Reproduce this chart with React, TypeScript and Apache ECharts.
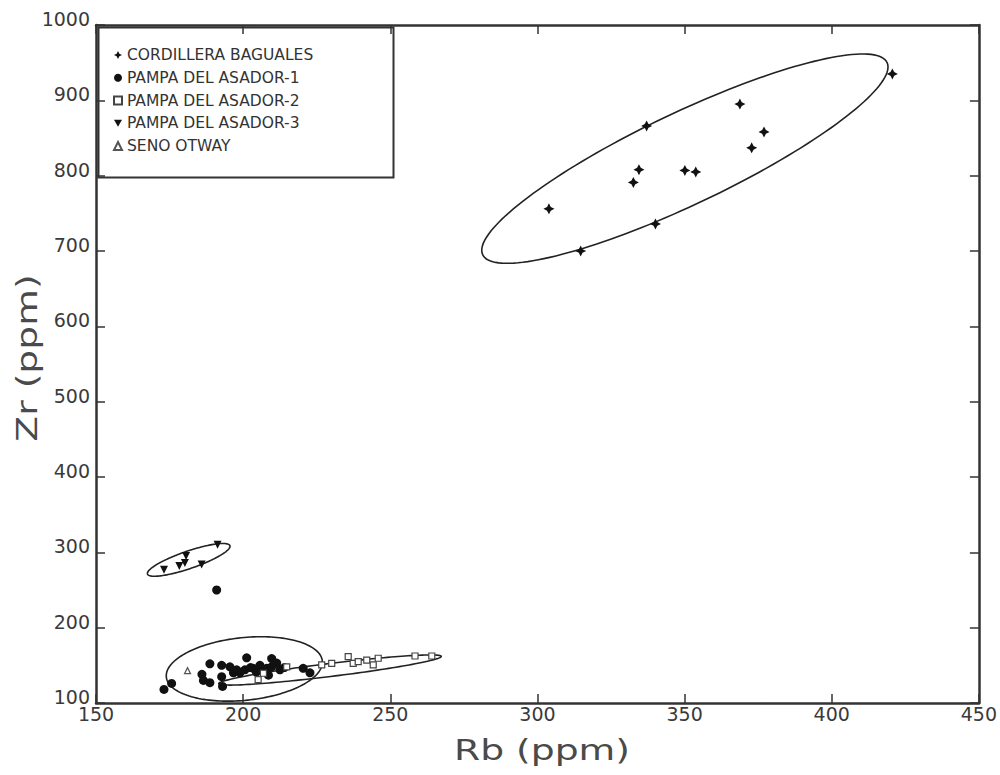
import React, { useEffect, useRef } from "react";
import * as echarts from "echarts";

// Axis ranges (Rb on x, Zr on y, both in ppm)
const xRange = [150, 450];
const xStep = 50;
const yRange = [100, 1000];
const yStep = 100;

const groupNames = [
  "CORDILLERA BAGUALES",
  "PAMPA DEL ASADOR-1",
  "PAMPA DEL ASADOR-2",
  "PAMPA DEL ASADOR-3",
  "SENO OTWAY",
];

// [Rb, Zr] samples per locality
const cordilleraBaguales: [number, number][] = [
  [420.6, 935], [368.8, 895], [337.1, 866], [377.0, 858], [372.8, 837],
  [334.5, 808], [350.1, 807], [353.8, 805], [332.6, 791], [303.9, 756],
  [340.1, 736], [314.7, 700],
];

const pampaAsador1: [number, number][] = [
  [173.1, 118], [175.7, 126], [186.0, 138], [186.5, 130], [188.7, 152],
  [188.7, 127], [192.7, 135], [193.0, 122], [192.7, 150], [195.5, 148],
  [196.7, 140], [197.8, 144], [198.9, 140], [200.6, 144], [201.2, 160],
  [202.5, 147], [203.4, 146], [204.5, 141], [205.7, 150], [206.9, 142],
  [208.0, 146], [208.6, 137], [209.7, 159], [209.7, 148], [211.4, 153],
  [212.5, 144], [214.0, 147], [220.4, 146], [222.7, 140], [191.0, 250],
];

const pampaAsador2: [number, number][] = [
  [205.1, 131], [206.9, 139.5], [214.8, 148], [226.7, 150.5], [230.1, 152.7],
  [235.7, 161.5], [237.4, 152.7], [239.1, 155], [242.0, 157], [244.2, 150.5],
  [245.9, 159.4], [258.4, 162.4], [264.1, 162.4],
];

const pampaAsador3: [number, number][] = [
  [173.1, 277], [178.3, 282], [180.2, 286], [180.6, 295], [185.9, 284], [191.3, 310],
];

const senoOtway: [number, number][] = [[181.1, 143]];

// Group envelopes: [centre Rb, centre Zr, major-axis tip Rb, tip Zr, minor/major ratio]
const envelopeBaguales = [350.1, 822.6, 418.8, 950.2, 0.205];
const envelopeAsador1 = [200.4, 145.2, 226.9, 155.9, 0.4];
const envelopeAsador2 = [229.5, 143.8, 267.3, 161.9, 0.058];
const envelopeAsador3 = [181.5, 290.0, 195.5, 308.8, 0.2];

const crossSymbol =
  "path://M0,-10 L3.4,-3.4 L10,0 L3.4,3.4 L0,10 L-3.4,3.4 L-10,0 L-3.4,-3.4 Z";
const downTriangle = "path://M-5,-4.3 L5,-4.3 L0,4.3 Z";

const ink = "#111";
const frame = "#333";

export default function App() {
  const ref = useRef<HTMLDivElement>(null);

  useEffect(() => {
    if (!ref.current) return;
    const chart = echarts.init(ref.current, null, { renderer: "svg" });

    const mirrorAxis = {
      axisLine: { onZero: false, lineStyle: { color: frame, width: 2.5 } },
      axisTick: { inside: true, length: 9, lineStyle: { color: frame, width: 1.5 } },
      axisLabel: { show: false },
      splitLine: { show: false },
    };

    const tickFont = {
      fontFamily: "DejaVu Sans",
      fontSize: 19,
      color: "#3a3a3a",
      formatter: (v: number) => String(v),
    };

    chart.setOption({
      animation: false,
      backgroundColor: "#fff",
      grid: { left: 96, right: 21, top: 25, bottom: 72, containLabel: false },
      xAxis: [
        {
          type: "value",
          min: xRange[0],
          max: xRange[1],
          interval: xStep,
          position: "bottom",
          axisLine: { onZero: false, lineStyle: { color: frame, width: 2.5 } },
          axisTick: { inside: true, length: 9, lineStyle: { color: frame, width: 1.5 } },
          axisLabel: { ...tickFont, margin: 4, lineHeight: 14 },
          splitLine: { show: false },
        },
        {
          type: "value",
          min: xRange[0],
          max: xRange[1],
          interval: xStep,
          position: "top",
          ...mirrorAxis,
        },
      ],
      yAxis: [
        {
          type: "value",
          min: yRange[0],
          max: yRange[1],
          interval: yStep,
          position: "left",
          axisLine: { onZero: false, lineStyle: { color: frame, width: 2.5 } },
          axisTick: { inside: true, length: 9, lineStyle: { color: frame, width: 1.5 } },
          axisLabel: { ...tickFont, margin: 6, verticalAlign: "bottom", lineHeight: 12 },
          splitLine: { show: false },
        },
        {
          type: "value",
          min: yRange[0],
          max: yRange[1],
          interval: yStep,
          position: "right",
          ...mirrorAxis,
        },
      ],
      legend: {
        data: groupNames,
        orient: "vertical",
        left: 113,
        top: 47,
        padding: 0,
        itemWidth: 8,
        itemHeight: 8,
        itemGap: 6.75,
        selectedMode: false,
        textStyle: {
          fontFamily: "DejaVu Sans",
          fontSize: 15.5,
          lineHeight: 16,
          color: "#333",
        },
      },
      graphic: [
        {
          type: "rect",
          left: 96,
          top: 25,
          shape: { width: 295, height: 150 },
          style: { fill: "none", stroke: frame, lineWidth: 2 },
          silent: true,
          z: 10,
        },
        {
          type: "text",
          x: 542,
          y: 750,
          scaleX: 1.3,
          style: {
            text: "Rb (ppm)",
            fontFamily: "DejaVu Sans",
            fontSize: 29,
            fill: "#4a4a4a",
            align: "center",
            verticalAlign: "middle",
          },
        },
        {
          type: "text",
          x: 27,
          y: 358,
          rotation: Math.PI / 2,
          scaleX: 1.3,
          style: {
            text: "Zr (ppm)",
            fontFamily: "DejaVu Sans",
            fontSize: 29,
            fill: "#4a4a4a",
            align: "center",
            verticalAlign: "middle",
          },
        },
      ],
      series: [
        {
          type: "custom",
          name: "envelopes",
          xAxisIndex: 0,
          yAxisIndex: 0,
          clip: false,
          silent: true,
          data: [envelopeBaguales, envelopeAsador1, envelopeAsador2, envelopeAsador3],
          renderItem: (_params: any, api: any) => {
            const c = api.coord([api.value(0), api.value(1)]);
            const t = api.coord([api.value(2), api.value(3)]);
            const ratio = api.value(4);
            const dx = t[0] - c[0];
            const dy = t[1] - c[1];
            const a = Math.hypot(dx, dy);
            const b = a * ratio;
            const ang = Math.atan2(dy, dx);
            const pts: number[][] = [];
            for (let i = 0; i <= 160; i++) {
              const s = (i / 160) * Math.PI * 2;
              const u = a * Math.cos(s);
              const v = b * Math.sin(s);
              pts.push([
                c[0] + u * Math.cos(ang) - v * Math.sin(ang),
                c[1] + u * Math.sin(ang) + v * Math.cos(ang),
              ]);
            }
            return {
              type: "polygon",
              shape: { points: pts },
              style: { fill: "none", stroke: "#222", lineWidth: 1.6 },
            };
          },
        },
        {
          type: "scatter",
          name: groupNames[0],
          data: cordilleraBaguales,
          symbol: crossSymbol,
          symbolSize: 11,
          itemStyle: { color: ink, opacity: 1 },
        },
        {
          type: "scatter",
          name: groupNames[1],
          data: pampaAsador1,
          symbol: "circle",
          symbolSize: 9,
          itemStyle: { color: ink, opacity: 1 },
        },
        {
          type: "scatter",
          name: groupNames[2],
          data: pampaAsador2,
          symbol: "rect",
          symbolSize: 6,
          itemStyle: { color: "#fff", borderColor: "#444", borderWidth: 1.2, opacity: 1 },
        },
        {
          type: "scatter",
          name: groupNames[3],
          data: pampaAsador3,
          symbol: downTriangle,
          symbolSize: 8,
          itemStyle: { color: ink, opacity: 1 },
        },
        {
          type: "scatter",
          name: groupNames[4],
          data: senoOtway,
          symbol: "triangle",
          symbolSize: 6,
          itemStyle: { color: "#fff", borderColor: "#555", borderWidth: 1.2, opacity: 1 },
        },
      ],
    });

    return () => chart.dispose();
  }, []);

  return (
    <div
      ref={ref}
      style={{ position: "fixed", left: 0, top: 0, width: 1000, height: 775 }}
    />
  );
}
